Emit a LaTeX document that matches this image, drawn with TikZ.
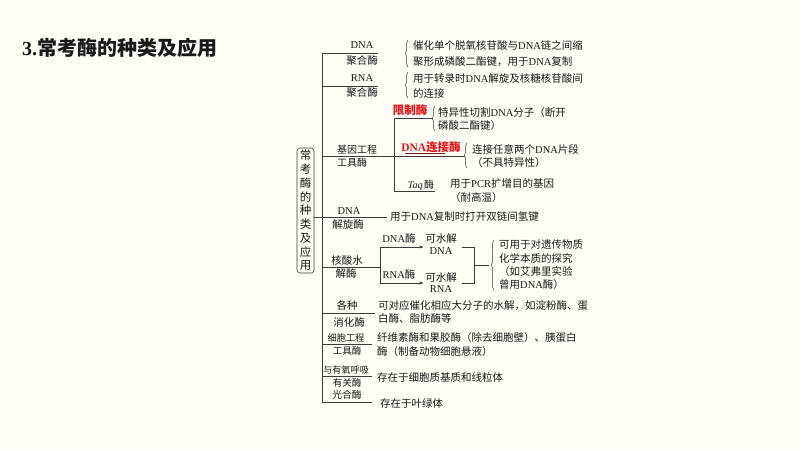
\documentclass[tikz,border=0pt]{standalone}
\usepackage{fontspec}
\setmainfont{Noto Sans CJK SC}
\newfontfamily\latin{Liberation Serif}
\newcommand\E[1]{{\latin #1}}
\usetikzlibrary{arrows.meta,decorations.pathreplacing}
\definecolor{bg}{RGB}{254,254,246}
\definecolor{ln}{RGB}{60,60,60}
\definecolor{tx}{RGB}{25,25,25}
\definecolor{hl}{RGB}{230,20,25}
\definecolor{ul}{RGB}{110,25,25}
\begin{document}
\begin{tikzpicture}[x=1pt,y=-1pt,
  every node/.style={inner sep=0pt, text=tx},
  txt/.style={anchor=west, font=\fontsize{10.5}{14}\selectfont, align=left},
  lab/.style={font=\fontsize{10.5}{13}\selectfont},
  smalllab/.style={font=\fontsize{9.2}{11}\selectfont},
  red/.style={text=hl, font=\fontsize{11.5}{13}\selectfont\bfseries},
  conn/.style={draw=ln, line width=0.6pt},
  brc/.style={draw=ln, line width=0.5pt, decorate, decoration={brace, amplitude=2.8pt}},
  arr/.style={conn, -{Stealth[length=4.5pt,width=3pt]}},
]
\fill[bg] (0,0) rectangle (800,450);
\useasboundingbox (0,0) rectangle (800,450);

% title
\node[anchor=west, font=\fontsize{20}{24}\selectfont\bfseries] (title) at (22,48) {\E{3.}常考酶的种类及应用};

% root box
\node[draw=ln, line width=0.6pt, rounded corners=3pt, minimum width=17pt, minimum height=125pt, align=center, font=\fontsize{11.5}{13.75}\selectfont] (root) at (305.5,210.5) {常\\考\\酶\\的\\种\\类\\及\\应\\用};

% main spine
\coordinate (m1) at (322,53);
\coordinate (m2) at (322,86);
\coordinate (m3) at (322,156);
\coordinate (m4) at (322,217);
\coordinate (m5) at (322,267);
\coordinate (m6) at (322,313);
\coordinate (m7) at (322,344.5);
\coordinate (m8) at (322,376.5);
\coordinate (m9) at (322,402);
\draw[conn] (m1) -- (m9);

% 1 DNA polymerase
\coordinate (e1) at (378,53);
\draw[conn] (m1) -- (e1);
\node[lab] (l1a) at (362,45) {\E{DNA}};
\node[lab] (l1b) at (362,61) {聚合酶};
\draw[brc] (408,67) -- (408,40);
\node[txt, font=\fontsize{10.5}{16.5}\selectfont] (t1) at (413,53.5) {催化单个脱氧核苷酸与\E{DNA}链之间缩\\聚形成磷酸二酯键，用于\E{DNA}复制};

% 2 RNA polymerase
\coordinate (e2) at (378,86);
\draw[conn] (m2) -- (e2);
\node[lab] (l2a) at (362,78) {\E{RNA}};
\node[lab] (l2b) at (362,93) {聚合酶};
\draw[brc] (408,98) -- (408,72);
\node[txt, font=\fontsize{10.5}{15}\selectfont] (t2) at (413,85.5) {用于转录时\E{DNA}解旋及核糖核苷酸间\\的连接};

% 3 gene engineering tools
\coordinate (e3) at (465,156);
\draw[conn] (m3) -- (e3);
\node[lab, anchor=west, font=\fontsize{10}{12}\selectfont] (l3a) at (337,149.5) {基因工程};
\node[lab, anchor=west, font=\fontsize{10}{12}\selectfont] (l3b) at (337,162.5) {工具酶};
\coordinate (s1) at (394,118);
\coordinate (s3) at (394,191);
\coordinate (n1) at (433,118);
\coordinate (n3) at (435,191);
\draw[conn] (s1) -- (s3);
\draw[conn] (s1) -- (n1);
\draw[conn] (s3) -- (n3);
\node[red] (xz) at (410,110.5) {限制酶};
\draw[brc] (435,131) -- (435,106);
\node[txt, font=\fontsize{10.5}{13}\selectfont] (t3a) at (438,119.5) {特异性切割\E{DNA}分子（断开\\磷酸二酯键）};
\node[red] (lj) at (431,147) {\E{DNA}连接酶};
\draw[ul, line width=0.8pt] (405,153) -- (445,153);
\draw[brc] (467,168) -- (467,143);
\node[txt, font=\fontsize{10.5}{12.5}\selectfont] (t3b) at (472,156) {连接任意两个\E{DNA}片段\\（不具特异性）};
\node[font=\fontsize{10}{12}\selectfont] (taq) at (421,185) {\E{\textit{Taq}}\,酶};
\node[txt, font=\fontsize{10.5}{14}\selectfont] (t3c) at (450,191) {用于\E{PCR}扩增目的基因\\（耐高温）};

% 4 helicase
\coordinate (e4) at (387,217);
\draw[conn] (root.east |- m4) -- (e4);
\node[lab] (l4a) at (349,211) {\E{DNA}};
\node[lab] (l4b) at (348,225) {解旋酶};
\node[txt] (t4) at (390,217) {用于\E{DNA}复制时打开双链间氢键};

% 5 nucleases
\coordinate (e5) at (380,267);
\draw[conn] (m5) -- (e5);
\node[lab] (l5a) at (347,260) {核酸水};
\node[lab] (l5b) at (346,273.5) {解酶};
\coordinate (va) at (380,247);
\coordinate (vb) at (380,283);
\draw[conn] (va) -- (vb);
\node[lab, align=center, font=\fontsize{10.5}{12}\selectfont] (kd) at (441,244) {可水解\\\E{DNA}};
\node[lab, align=center, font=\fontsize{10.5}{11.5}\selectfont] (kr) at (441,282.5) {可水解\\\E{RNA}};
\node[lab] (dm) at (399,238.5) {\E{DNA}酶};
\node[lab] (rm) at (399,274.5) {\E{RNA}酶};
\draw[arr] (va) -- ([xshift=-1.5pt]kd.west |- va);
\draw[arr] (vb) -- ([xshift=-1.5pt]kr.west |- vb);
\coordinate (b1) at (462,247);
\coordinate (b2) at (474,247);
\coordinate (b3) at (474,283);
\coordinate (b4) at (462,283);
\coordinate (b5) at (474,265);
\coordinate (b6) at (489,265);
\draw[conn] (b1) -- (b2) -- (b3) -- (b4);
\draw[conn] (b5) -- (b6);
\draw[brc] (494,290) -- (494,240);
\node[txt, font=\fontsize{10.5}{13.3}\selectfont] (t5) at (499,265) {可用于对遗传物质\\化学本质的探究\\（如艾弗里实验\\曾用\E{DNA}酶）};

% 6 digestive enzymes
\coordinate (e6) at (375,313);
\draw[conn] (m6) -- (e6);
\node[lab] (l6a) at (347,305) {各种};
\node[lab] (l6b) at (349,322) {消化酶};
\node[txt, font=\fontsize{10.5}{13}\selectfont] (t6) at (378,311.5) {可对应催化相应大分子的水解，如淀粉酶、蛋\\白酶、脂肪酶等};

% 7 cell engineering tools
\coordinate (e7) at (372,344.5);
\draw[conn] (m7) -- (e7);
\node[smalllab] (l7a) at (346,338) {细胞工程};
\node[lab, font=\fontsize{9.5}{11}\selectfont] (l7b) at (347,351) {工具酶};
\node[txt, font=\fontsize{10.5}{14}\selectfont] (t7) at (377,345) {纤维素酶和果胶酶（除去细胞壁）、胰蛋白\\酶（制备动物细胞悬液）};

% 8 respiration enzymes
\coordinate (e8) at (372,376.5);
\draw[conn] (m8) -- (e8);
\node[smalllab] (l8a) at (346,370.5) {与有氧呼吸};
\node[lab, font=\fontsize{9.5}{11}\selectfont] (l8b) at (347,383) {有关酶};
\node[txt] (t8) at (377,377) {存在于细胞质基质和线粒体};

% 9 photosynthesis enzymes
\coordinate (e9) at (372,402);
\draw[conn] (m9) -- (e9);
\node[lab, font=\fontsize{9.8}{11}\selectfont] (l9) at (347,394.5) {光合酶};
\node[txt] (t9) at (380,403.5) {存在于叶绿体};
\end{tikzpicture}
\end{document}
